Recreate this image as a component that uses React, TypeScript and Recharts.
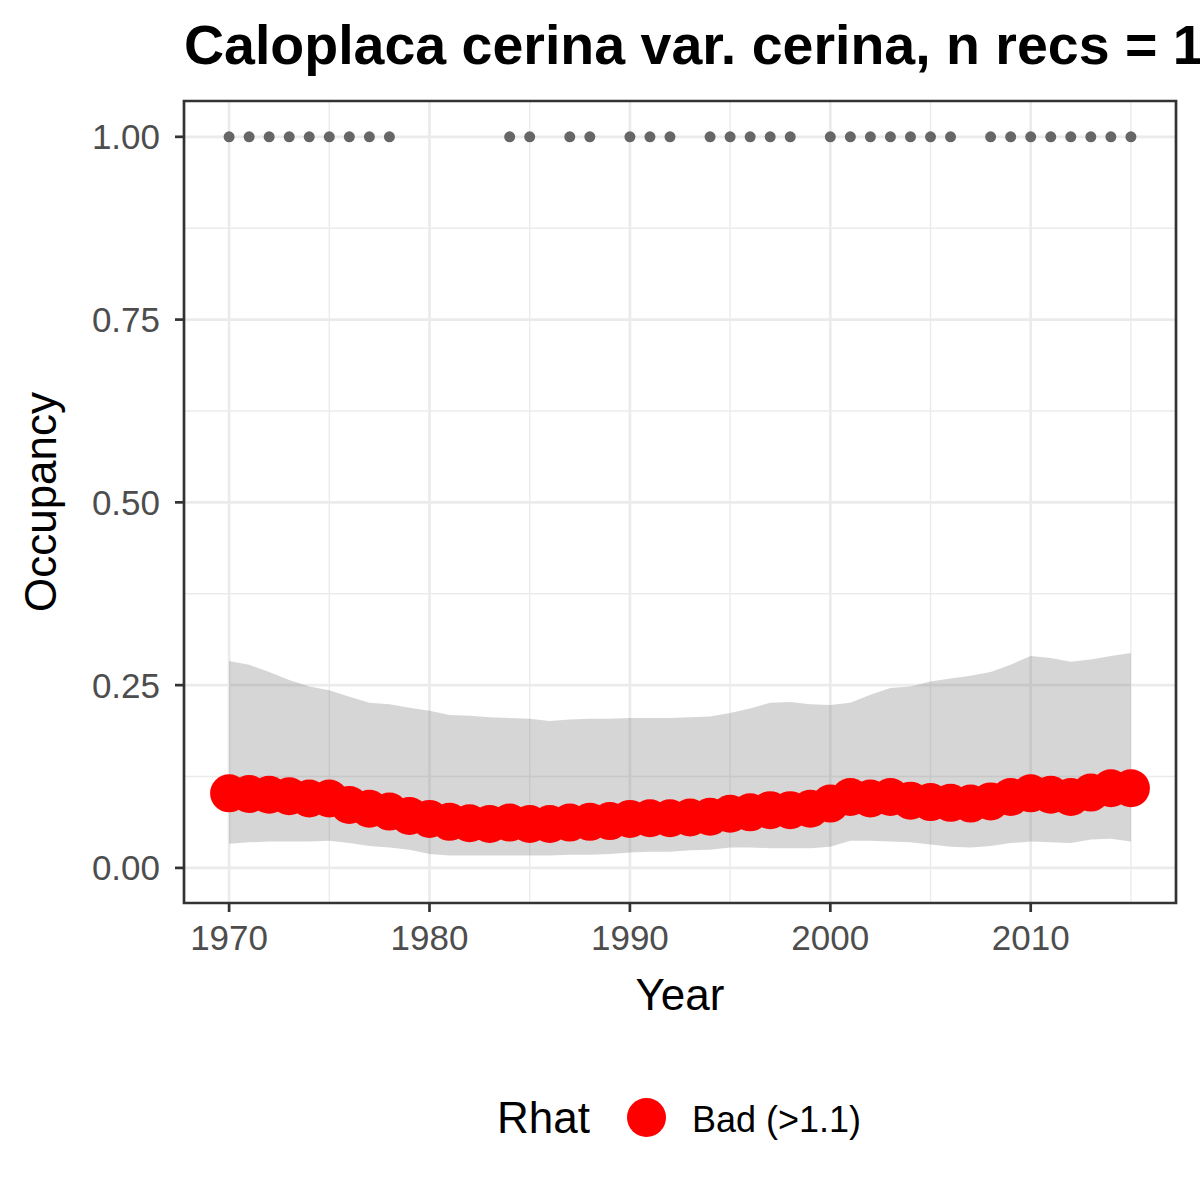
import React from 'react';
import {
  ComposedChart,
  Area,
  Scatter,
  XAxis,
  YAxis,
  CartesianGrid,
  ReferenceArea,
} from 'recharts';

const years = [
  1970, 1971, 1972, 1973, 1974, 1975, 1976, 1977, 1978, 1979,
  1980, 1981, 1982, 1983, 1984, 1985, 1986, 1987, 1988, 1989,
  1990, 1991, 1992, 1993, 1994, 1995, 1996, 1997, 1998, 1999,
  2000, 2001, 2002, 2003, 2004, 2005, 2006, 2007, 2008, 2009,
  2010, 2011, 2012, 2013, 2014, 2015,
];

const meanOcc = [
  0.102, 0.101, 0.100, 0.098, 0.095, 0.095, 0.086, 0.081, 0.077, 0.071,
  0.067, 0.063, 0.061, 0.060, 0.062, 0.060, 0.060, 0.062, 0.063, 0.064,
  0.067, 0.068, 0.068, 0.069, 0.070, 0.074, 0.076, 0.079, 0.079, 0.081,
  0.088, 0.097, 0.095, 0.097, 0.092, 0.090, 0.089, 0.088, 0.091, 0.097,
  0.102, 0.100, 0.097, 0.103, 0.109, 0.109,
];

const upperCI = [
  0.283, 0.278, 0.268, 0.257, 0.248, 0.243, 0.234, 0.226, 0.224, 0.219,
  0.215, 0.209, 0.208, 0.206, 0.205, 0.204, 0.201, 0.203, 0.204, 0.204,
  0.205, 0.205, 0.205, 0.206, 0.207, 0.212, 0.218, 0.226, 0.227, 0.224,
  0.223, 0.226, 0.237, 0.246, 0.248, 0.255, 0.259, 0.263, 0.268, 0.278,
  0.290, 0.287, 0.282, 0.285, 0.290, 0.294,
];

const lowerCI = [
  0.033, 0.035, 0.036, 0.036, 0.036, 0.037, 0.034, 0.030, 0.028, 0.025,
  0.019, 0.017, 0.017, 0.017, 0.017, 0.017, 0.017, 0.018, 0.018, 0.019,
  0.021, 0.022, 0.022, 0.024, 0.025, 0.028, 0.028, 0.027, 0.027, 0.027,
  0.029, 0.037, 0.037, 0.036, 0.035, 0.032, 0.029, 0.028, 0.030, 0.034,
  0.036, 0.035, 0.034, 0.039, 0.040, 0.036,
];

const recordYears = [
  1970, 1971, 1972, 1973, 1974, 1975, 1976, 1977, 1978,
  1984, 1985, 1987, 1988, 1990, 1991, 1992,
  1994, 1995, 1996, 1997, 1998,
  2000, 2001, 2002, 2003, 2004, 2005, 2006,
  2008, 2009, 2010, 2011, 2012, 2013, 2014, 2015,
];

const xTicks = [1970, 1980, 1990, 2000, 2010];
const xMinor = [1975, 1985, 1995, 2005, 2015];
const yTicks = [0, 0.25, 0.5, 0.75, 1];
const yMinor = [0.125, 0.375, 0.625, 0.875];

const titleText = 'Caloplaca cerina var. cerina, n recs = 1';
const legendTitle = 'Rhat';
const legendLabel = 'Bad (>1.1)';

const X_DOMAIN: [number, number] = [1967.75, 2017.25];
const Y_DOMAIN: [number, number] = [-0.048, 1.049];

const FONT = '"Liberation Sans", Arial, Helvetica, sans-serif';

const bandTable = years.map((year, i) => ({
  year,
  band: [lowerCI[i], upperCI[i]],
}));

const meanTable = years.map((year, i) => ({ year, mean: meanOcc[i] }));

const recordTable = recordYears.map((year) => ({ year, obs: 1 }));

const RedDot = (props: any) => {
  const { cx, cy } = props;
  if (cx == null || cy == null) return null;
  return <circle cx={cx} cy={cy} r={19} fill="#ff0000" />;
};

const GreyDot = (props: any) => {
  const { cx, cy } = props;
  if (cx == null || cy == null) return null;
  return <circle cx={cx} cy={cy} r={5.5} fill="#666666" />;
};

export default function App() {
  return (
    <div
      style={{
        position: 'absolute',
        left: 0,
        top: 0,
        width: 1200,
        height: 1200,
        background: '#ffffff',
        overflow: 'hidden',
      }}
    >
      <ComposedChart
        width={1200}
        height={1200}
        data={bandTable}
        margin={{ top: 101, right: 24, bottom: 187, left: 0 }}
      >
        <CartesianGrid
          horizontalValues={yMinor}
          verticalValues={xMinor}
          stroke="#ebebeb"
          strokeWidth={1.4}
          strokeDasharray=""
        />
        <CartesianGrid
          horizontalValues={yTicks}
          verticalValues={xTicks}
          stroke="#ebebeb"
          strokeWidth={2.7}
          strokeDasharray=""
        />
        <XAxis
          dataKey="year"
          type="number"
          domain={X_DOMAIN}
          ticks={xTicks}
          allowDataOverflow
          height={110}
          axisLine={false}
          tickLine={{ stroke: '#333333', strokeWidth: 2.7 }}
          tickSize={9}
          tickMargin={13}
          tick={{ fill: '#4d4d4d', fontSize: 35, fontFamily: FONT }}
          label={{
            value: 'Year',
            position: 'insideBottom',
            offset: 3,
            style: { fill: '#000000', fontSize: 44, fontFamily: FONT },
          }}
        />
        <YAxis
          type="number"
          domain={Y_DOMAIN}
          ticks={yTicks}
          allowDataOverflow
          width={184}
          axisLine={false}
          tickLine={{ stroke: '#333333', strokeWidth: 2.7 }}
          tickSize={9}
          tickMargin={15}
          tickFormatter={(v: number) => v.toFixed(2)}
          tick={{ fill: '#4d4d4d', fontSize: 35, fontFamily: FONT }}
          label={{
            value: 'Occupancy',
            angle: -90,
            position: 'insideLeft',
            offset: 40,
            style: {
              fill: '#000000',
              fontSize: 44,
              fontFamily: FONT,
              textAnchor: 'middle',
            },
          }}
        />
        <Area
          dataKey="band"
          type="linear"
          stroke="none"
          fill="#767676"
          fillOpacity={0.3}
          isAnimationActive={false}
          dot={false}
          activeDot={false}
        />
        <Scatter
          data={recordTable}
          dataKey="obs"
          shape={GreyDot}
          isAnimationActive={false}
        />
        <Scatter
          data={meanTable}
          dataKey="mean"
          shape={RedDot}
          isAnimationActive={false}
        />
        <ReferenceArea
          x1={X_DOMAIN[0]}
          x2={X_DOMAIN[1]}
          y1={Y_DOMAIN[0]}
          y2={Y_DOMAIN[1]}
          fill="none"
          fillOpacity={0}
          stroke="#333333"
          strokeWidth={2.7}
          ifOverflow="visible"
        />
      </ComposedChart>
      <svg
        width={1200}
        height={1200}
        style={{ position: 'absolute', left: 0, top: 0, pointerEvents: 'none' }}
      >
        <text
          x={184}
          y={64}
          fontFamily={FONT}
          fontWeight="bold"
          fontSize={55.5}
          fill="#000000"
        >
          {titleText}
        </text>
        <text x={497} y={1133} fontFamily={FONT} fontSize={44} fill="#000000">
          {legendTitle}
        </text>
        <circle cx={646.5} cy={1117.5} r={19.5} fill="#ff0000" />
        <text x={692} y={1132} fontFamily={FONT} fontSize={36} fill="#000000">
          {legendLabel}
        </text>
      </svg>
    </div>
  );
}
